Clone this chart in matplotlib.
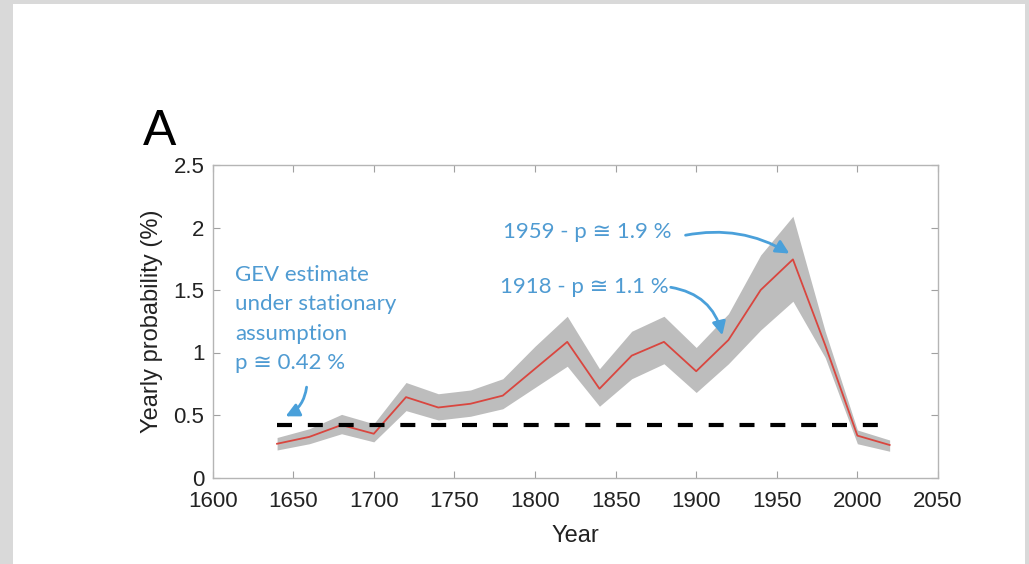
import matplotlib
matplotlib.use("Agg")
import matplotlib.pyplot as plt
from matplotlib.patches import Rectangle
import numpy as np

# ---- data ----
years = [1640, 1660, 1680, 1700, 1720, 1740, 1760, 1780, 1800, 1820,
         1840, 1860, 1880, 1900, 1920, 1940, 1960, 1980, 2000, 2020]
prob_mid = [0.27, 0.325, 0.42, 0.35, 0.643, 0.56, 0.59, 0.655, 0.87, 1.085,
            0.71, 0.975, 1.085, 0.85, 1.10, 1.50, 1.745, 1.06, 0.335, 0.26]
prob_upper = [0.32, 0.39, 0.505, 0.43, 0.76, 0.67, 0.70, 0.79, 1.05, 1.29,
              0.87, 1.17, 1.29, 1.04, 1.31, 1.78, 2.09, 1.17, 0.38, 0.30]
prob_lower = [0.22, 0.27, 0.35, 0.285, 0.535, 0.46, 0.49, 0.55, 0.72, 0.89,
              0.57, 0.79, 0.91, 0.68, 0.91, 1.18, 1.41, 0.96, 0.27, 0.21]
stationary_p = 0.42
stationary_span = [1640, 2020]

xticks = [1600, 1650, 1700, 1750, 1800, 1850, 1900, 1950, 2000, 2050]
yticks = [0, 0.5, 1, 1.5, 2, 2.5]
ytick_labels = ["0", "0.5", "1", "1.5", "2", "2.5"]

blue = "#4f9bd2"
arrow_blue = "#4aa0da"
tick_col = "#222222"

fig = plt.figure(figsize=(10.29, 5.64), dpi=100)
fig.patch.set_facecolor("#d9d9d9")
fig.patches.append(Rectangle((13/1029, 0), (1025-13)/1029, (564-4)/564,
                             transform=fig.transFigure, facecolor="white",
                             edgecolor="none", zorder=-5))

ax = fig.add_axes([212.6/1029, 1-477.5/564, (938-212.6)/1029, (477.5-165)/564])
ax.set_zorder(2)
ax.set_facecolor("white")

ax.fill_between(years, prob_lower, prob_upper, color="#bdbdbd", lw=0, zorder=2)
ax.plot(years, prob_mid, color="#d9463f", lw=1.3, zorder=3)
ax.plot(stationary_span, [stationary_p, stationary_p], color="black", lw=3,
        dashes=(3.6, 3.8), zorder=4)

ax.set_xlim(1600, 2050)
ax.set_ylim(0, 2.5)
ax.set_xticks(xticks)
ax.set_yticks(yticks)
ax.set_yticklabels(ytick_labels)
ax.tick_params(direction="in", length=5, width=0.8, color="#a0a0a0",
               top=True, right=True, labelsize=16, labelcolor=tick_col)
ax.tick_params(axis="x", pad=10)
ax.tick_params(axis="y", pad=6)
for lab in ax.get_xticklabels() + ax.get_yticklabels():
    lab.set_family(["Liberation Sans", "DejaVu Sans"])
for sp in ax.spines.values():
    sp.set_color("#b5b5b5")
    sp.set_linewidth(1.0)

ax.set_xlabel("Year", fontsize=17, color=tick_col, family=["Liberation Sans"])
ax.xaxis.label.set_va("center")
ax.xaxis.set_label_coords(0.5, -0.187)
ax.set_ylabel("Yearly probability (%)", fontsize=17, color=tick_col,
              family=["Liberation Sans"])
ax.yaxis.label.set_va("center")
ax.yaxis.set_label_coords(-0.0835, 0.5)

fig.text(143/1029, 1-145/564, "A", fontsize=36, family=["Liberation Sans"],
         va="baseline", ha="left", color="black")

tfam = ["Lato", "DejaVu Sans"]
ax.text(1614, 1.70, "GEV estimate\nunder stationary\nassumption\np \u2245 0.42 %",
        fontsize=16, color=blue, family=tfam, ha="left", va="top", linespacing=1.58)
ax.text(1780.2, 1.966, "1959 - p \u2245 1.9 %", fontsize=16, color=blue,
        family=tfam, ha="left", va="center")
ax.text(1778.4, 1.525, "1918 - p \u2245 1.1 %", fontsize=16, color=blue,
        family=tfam, ha="left", va="center")

akw = dict(arrowstyle="-|>,head_length=0.8,head_width=0.4", color=arrow_blue, lw=2.0)
ax.annotate("", xy=(1959.3, 1.78), xytext=(1891.7, 1.934),
            arrowprops=dict(connectionstyle="arc3,rad=-0.2", **akw))
ax.annotate("", xy=(1916.6, 1.116), xytext=(1882.5, 1.525),
            arrowprops=dict(connectionstyle="arc3,rad=-0.35", **akw))
ax.annotate("", xy=(1643.7, 0.48), xytext=(1658.5, 0.745),
            arrowprops=dict(connectionstyle="arc3,rad=-0.3", **akw))

fig.savefig("out.png", dpi=100, facecolor=fig.get_facecolor())
